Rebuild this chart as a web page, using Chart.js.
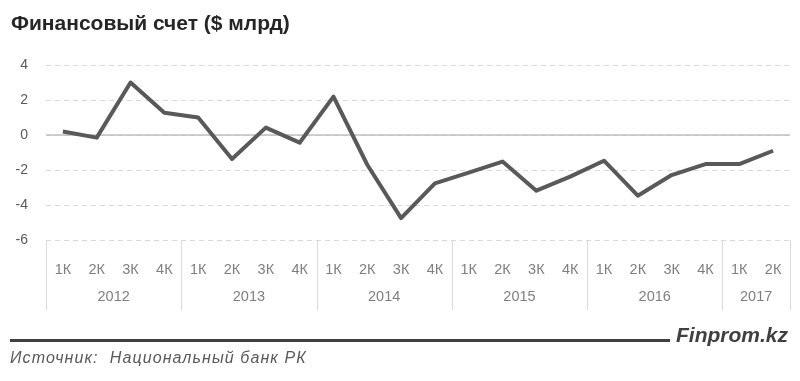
<!DOCTYPE html>
<html>
<head>
<meta charset="utf-8">
<script src="https://cdn.jsdelivr.net/npm/chart.js@4.4.0/dist/chart.umd.min.js"></script>
<style>
  html, body { margin: 0; padding: 0; background: #fff; }
  #wrap { position: relative; width: 800px; height: 381px; overflow: hidden; }
  #chart { position: absolute; left: 0; top: 0; }
  .title { position: absolute; left: 11px; top: 11px; font: bold 21px "Liberation Sans", Arial, sans-serif; color: #262626; line-height: 24px; }
  .rule { position: absolute; left: 10px; top: 339px; width: 660px; height: 3px; background: #404040; }
  .brand { position: absolute; left: 676px; top: 323px; font: italic bold 21px "Liberation Sans", Arial, sans-serif; color: #404040; line-height: 24px; }
  .source { position: absolute; left: 10px; top: 348px; font: italic 16px "Liberation Sans", Arial, sans-serif; color: #595959; letter-spacing: 1.1px; line-height: 20px; }
</style>
</head>
<body>
<div id="wrap">
  <canvas id="chart" width="800" height="381"></canvas>
  <div class="title">Финансовый счет ($ млрд)</div>
  <div class="rule"></div>
  <div class="brand">Finprom.kz</div>
  <div class="source">Источник:&nbsp; Национальный банк РК</div>
</div>
<script>
let quarters = ["1К","2К","3К","4К","1К","2К","3К","4К","1К","2К","3К","4К",
                "1К","2К","3К","4К","1К","2К","3К","4К","1К","2К"];
let years = ["2012","2013","2014","2015","2016","2017"];
let quartersPerYear = [4, 4, 4, 4, 4, 2];
let values = [0.2, -0.15, 3.0, 1.27, 1.0, -1.37, 0.42, -0.44, 2.19, -1.7, -4.75, -2.76,
              -2.15, -1.52, -3.18, -2.38, -1.47, -3.47, -2.29, -1.66, -1.66, -0.9];

const axisFont = { family: "'Liberation Sans', Arial, sans-serif", size: 14.5 };

// zero line + year groups under the x axis
const extras = {
  id: "extras",
  beforeDatasetsDraw(chart) {
    let ctx = chart.ctx, y = chart.scales.y, area = chart.chartArea;
    let y0 = y.getPixelForValue(0);
    ctx.save();
    ctx.strokeStyle = "#bfbfbf";
    ctx.lineWidth = 1.5;
    ctx.beginPath();
    ctx.moveTo(area.left, y0);
    ctx.lineTo(area.right, y0);
    ctx.stroke();
    ctx.restore();
  },
  afterDraw(chart) {
    let ctx = chart.ctx, x = chart.scales.x, area = chart.chartArea;
    let half = (x.getPixelForValue(1) - x.getPixelForValue(0)) / 2;
    ctx.save();
    ctx.strokeStyle = "#d9d9d9";
    ctx.lineWidth = 1;
    ctx.fillStyle = "#7f7f7f";
    ctx.font = axisFont.size + "px " + axisFont.family;
    ctx.textAlign = "center";
    ctx.textBaseline = "middle";
    let idx = 0;
    let sep = (px) => {
      ctx.beginPath();
      ctx.moveTo(Math.round(px) + 0.5, area.bottom);
      ctx.lineTo(Math.round(px) + 0.5, area.bottom + 70);
      ctx.stroke();
    };
    sep(x.getPixelForValue(0) - half);
    years.forEach((yr, i) => {
      let start = x.getPixelForValue(idx) - half;
      idx += quartersPerYear[i];
      let end = x.getPixelForValue(idx - 1) + half;
      sep(end);
      ctx.fillText(yr, (start + end) / 2, area.bottom + 57);
    });
    ctx.restore();
  }
};

new Chart(document.getElementById("chart"), {
  type: "line",
  data: {
    labels: quarters,
    datasets: [{
      data: values,
      borderColor: "#595959",
      borderWidth: 4,
      borderJoinStyle: "round",
      pointRadius: 0,
      tension: 0
    }]
  },
  options: {
    responsive: false,
    animation: false,
    layout: { padding: { top: 65, right: 10, bottom: 71, left: 0 } },
    plugins: { legend: { display: false }, tooltip: { enabled: false } },
    scales: {
      x: {
        offset: true,
        grid: { display: false },
        border: { display: false },
        ticks: { color: "#7f7f7f", font: axisFont, padding: 13, maxRotation: 0, autoSkip: false },
        afterFit(s) { s.height = 70; }
      },
      y: {
        min: -6,
        max: 4,
        ticks: { stepSize: 2, color: "#595959", font: { family: axisFont.family, size: 14 }, padding: 18 },
        grid: { color: "#d9d9d9", lineWidth: 1, drawTicks: false },
        border: { display: false, dash: [5, 4] },
        afterFit(s) { s.width = 46; }
      }
    }
  },
  plugins: [extras]
});
</script>
</body>
</html>
